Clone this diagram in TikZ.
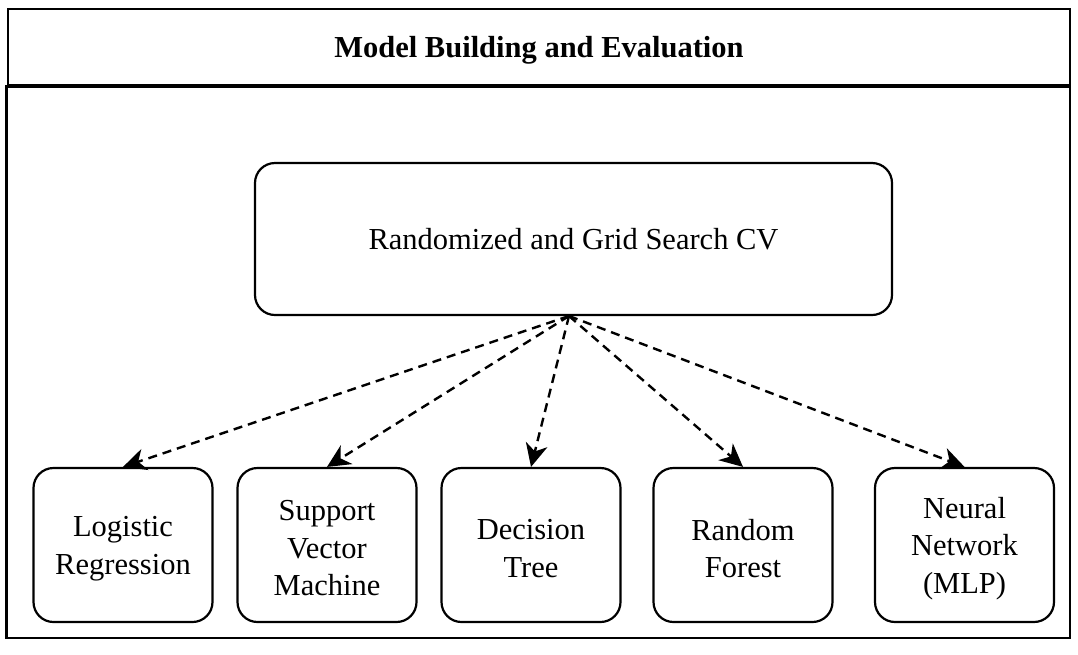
\documentclass[tikz,border=0pt]{standalone}
\usepackage{fontspec}
\setmainfont{Liberation Serif}
\usetikzlibrary{arrows.meta}
\begin{document}
\begin{tikzpicture}[x=1pt,y=-1pt,
  lbl/.style={font=\fontsize{30.5}{37.5}\selectfont, align=center, inner sep=0pt},
  lowered/.style={execute at begin node={\rule{0pt}{27pt}}},
  modelbox/.style={draw, line width=2.2pt, rounded corners=20pt,
    minimum width=179pt, minimum height=154pt, inner sep=0pt},
  searchbox/.style={lbl, draw, line width=2.2pt, rounded corners=20pt,
    minimum width=637pt, minimum height=152pt, inner sep=0pt},
  flow/.style={line width=2.4pt, dash pattern=on 9pt off 6pt,
    -{Stealth[length=23pt,width=22pt,inset=7pt]}}
]
\useasboundingbox (0,0) rectangle (1078,654);
\node[draw, lowered, line width=2.6pt, minimum width=1062pt, minimum height=76pt, inner sep=0pt,
  font=\fontsize{30.5}{37}\selectfont\bfseries] (title) at (539,47) {Model Building and Evaluation};
\draw[line width=2.6pt] (title.south west) rectangle (1070,638);

\node[searchbox] (cv) at (573.5,239) {Randomized and Grid Search CV};
\coordinate (src) at (569,316);

\node[modelbox] (lr) at (123,545) {};
\node[modelbox] (svm) at (327,545) {};
\node[modelbox] (dt) at (531,545) {};
\node[modelbox] (rf) at (743,545) {};
\node[modelbox] (nn) at (964.5,545) {};

\node[lbl] (lrt) at ([yshift=-3.5pt]lr.center) {Logistic\\Regression};
\node[lbl] (svmt) at ([yshift=-3.5pt]svm.center) {Support\\Vector\\Machine};
\node[lbl] (dtt) at ([yshift=-3.5pt]dt.center) {Decision\\Tree};
\node[lbl] (rft) at ([yshift=-3.5pt]rf.center) {Random\\Forest};
\node[lbl] (nnt) at ([yshift=-3.5pt]nn.center) {Neural\\Network\\(MLP)};

\foreach \t in {lr,svm,dt,rf,nn}{
  \draw[flow] (src) -- (\t.north);
}
\end{tikzpicture}
\end{document}
